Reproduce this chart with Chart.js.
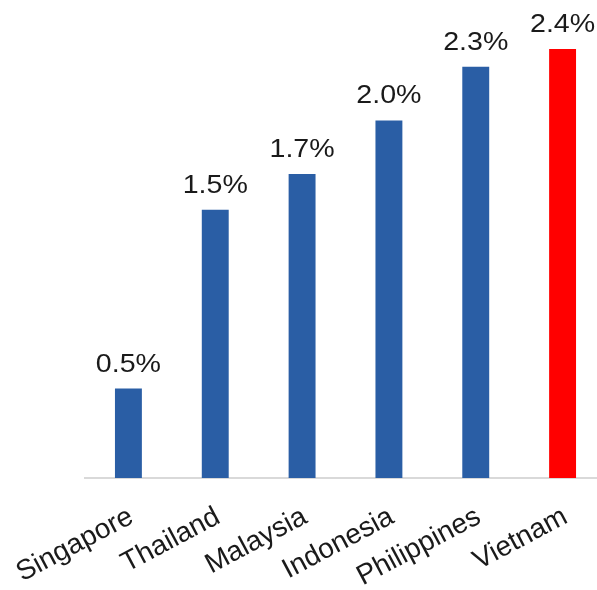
<!DOCTYPE html>
<html>
<head>
<meta charset="utf-8">
<script src="https://cdn.jsdelivr.net/npm/chart.js@4"></script>
<style>
    html, body { margin: 0; padding: 0; background: #fff; overflow: hidden; }
    #wrap { width: 597px; height: 590px; overflow: hidden; }
    #wrap canvas { display: block; }
</style>
</head>
<body>
<div id="wrap"><canvas id="growthChart" width="606" height="590"></canvas></div>
<script>
const countries = ["Singapore", "Thailand", "Malaysia", "Indonesia", "Philippines", "Vietnam"];
const growth = [0.5, 1.5, 1.7, 2.0, 2.3, 2.4];
const barColors = ["#2a5ea5", "#2a5ea5", "#2a5ea5", "#2a5ea5", "#2a5ea5", "#ff0000"];

const FAMILY = "'Liberation Sans', Arial, sans-serif";
const TEXT_COLOR = "#1a1a1a";
const VALUE_STRETCH = 1.1;
const ANGLE = 28 * Math.PI / 180;

// value labels over each bar, plus slanted country names under the axis
const barText = {
    id: "barText",
    afterDatasetsDraw(chart) {
        const ctx = chart.ctx;
        const meta = chart.getDatasetMeta(0);
        const xScale = chart.scales.x;
        ctx.save();
        ctx.fillStyle = TEXT_COLOR;

        ctx.font = "26px " + FAMILY;
        ctx.textAlign = "center";
        ctx.textBaseline = "alphabetic";
        meta.data.forEach((bar, i) => {
            const v = chart.data.datasets[0].data[i];
            ctx.save();
            ctx.translate(bar.x, bar.y - 17);
            ctx.scale(VALUE_STRETCH, 1);
            ctx.fillText(v.toFixed(1) + "%", 0, 0);
            ctx.restore();
        });

        ctx.font = "28px " + FAMILY;
        ctx.textAlign = "right";
        ctx.textBaseline = "middle";
        chart.data.labels.forEach((name, i) => {
            ctx.save();
            ctx.translate(xScale.getPixelForTick(i) + 3, xScale.top + 37);
            ctx.rotate(-ANGLE);
            ctx.fillText(name, 0, 0);
            ctx.restore();
        });
        ctx.restore();
    }
};

new Chart(document.getElementById("growthChart"), {
    type: "bar",
    data: {
        labels: countries,
        datasets: [{
            data: growth,
            backgroundColor: barColors,
            barPercentage: 0.31,
            categoryPercentage: 1.0
        }]
    },
    options: {
        responsive: false,
        animation: false,
        layout: { padding: { left: 85, right: 0, top: 0, bottom: 0 } },
        plugins: { legend: { display: false }, tooltip: { enabled: false } },
        scales: {
            x: {
                grid: { display: false },
                border: { color: "#d9d9d9", width: 2 },
                ticks: { display: false },
                afterFit: s => { s.height = 112; }
            },
            y: {
                display: false,
                min: 0,
                max: 2.674
            }
        }
    },
    plugins: [barText]
});
</script>
</body>
</html>
